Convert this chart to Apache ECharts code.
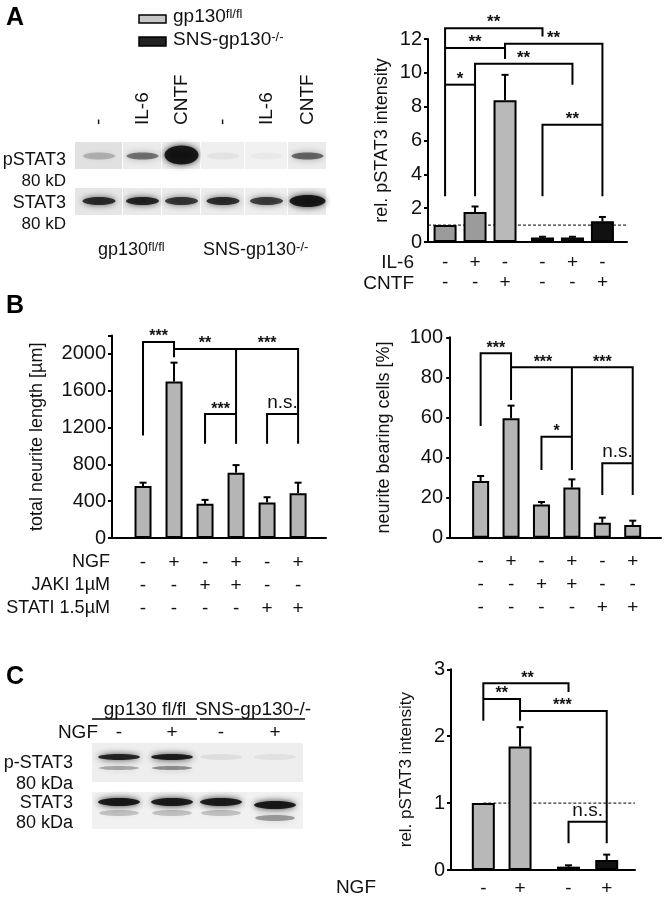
<!DOCTYPE html>
<html>
<head>
<meta charset="utf-8">
<script src="https://cdn.jsdelivr.net/npm/echarts@6/dist/echarts.min.js"></script>
<style>
  html, body { margin: 0; padding: 0; background: #fff; }
  #main { width: 665px; height: 900px; }
</style>
</head>
<body>
<div id="main"></div>
<script>
// ---- panel A: pSTAT3 quantification
const aX = [1, 2, 3, 4.25, 5.25, 6.25];
const aMeans = [1.0, 1.77, 8.38, 0.26, 0.26, 1.22];
const aErrs = [0, 0.33, 1.5, 0.05, 0.05, 0.26];
const aIL6 = ['-', '+', '-', '-', '+', '-'];
const aCNTF = ['-', '-', '+', '-', '-', '+'];
const aBrackets = [
  { pts: [[1, 2.7], [1, 12.64], [4.25, 12.64], [4.25, 12.15]], t: '**', lx: 2.62, ly: 12.64 },
  { pts: [[1, 11.47], [3, 11.47], [3, 10.82]], t: '**', lx: 2, ly: 11.47 },
  { pts: [[3, 10.82], [3, 11.72], [6.25, 11.72], [6.25, 2.7]], t: '**', lx: 4.62, ly: 11.72 },
  { pts: [[2, 2.7], [2, 10.54], [5.25, 10.54], [5.25, 9.3]], t: '**', lx: 3.62, ly: 10.54 },
  { pts: [[1, 9.3], [2, 9.3]], t: '*', lx: 1.5, ly: 9.3 },
  { pts: [[4.25, 2.7], [4.25, 6.93], [6.25, 6.93]], t: '**', lx: 5.25, ly: 6.93 }
];

// ---- panel B: neurite outgrowth
const bX = [1, 2, 3, 4, 5, 6];
const bLenMeans = [565, 1700, 371, 710, 386, 486];
const bLenErrs = [36, 205, 43, 82, 57, 115];
const bCellMeans = [28.3, 59.6, 16.6, 25.0, 7.5, 6.3];
const bCellErrs = [2.5, 6.3, 1.2, 4.1, 2.5, 2.2];
const bNGF = ['-', '+', '-', '+', '-', '+'];
const bJAKI = ['-', '-', '+', '+', '-', '-'];
const bSTATI = ['-', '-', '-', '-', '+', '+'];
const bLenBrackets = [
  { pts: [[1, 1113], [1, 2129], [2, 2129], [2, 1964]], t: '***', lx: 1.5, ly: 2129 },
  { pts: [[2, 2053], [6, 2053], [6, 1023]], t: '**', lx: 3, ly: 2053 },
  { pts: [[4, 2053], [4, 1023]], t: '***', lx: 5, ly: 2053 },
  { pts: [[3, 1023], [3, 1346], [4, 1346]], t: '***', lx: 3.5, ly: 1346 },
  { pts: [[5, 1023], [5, 1346], [6, 1346]], t: 'n.s.', lx: 5.5, ly: 1346 }
];
const bCellBrackets = [
  { pts: [[1, 55.7], [1, 92], [2, 92], [2, 68.7]], t: '***', lx: 1.5, ly: 92 },
  { pts: [[2, 85], [6, 85], [6, 21.3]], t: '***', lx: 3.05, ly: 85 },
  { pts: [[4, 85], [4, 33.8]], t: '***', lx: 5, ly: 85 },
  { pts: [[3, 33.8], [3, 50.4], [4, 50.4]], t: '*', lx: 3.5, ly: 50.4 },
  { pts: [[5, 21.3], [5, 37.1], [6, 37.1]], t: 'n.s.', lx: 5.5, ly: 37.1 }
];

// ---- panel C: NGF induced pSTAT3
const cX = [1, 2, 3.32, 4.36];
const cMeans = [1.0, 1.845, 0.05, 0.15];
const cErrs = [0, 0.29, 0.02, 0.08];
const cNGF = ['-', '+', '-', '+'];
const cBrackets = [
  { pts: [[1, 2.23], [1, 2.79], [3.32, 2.79], [3.32, 2.66]], t: '**', lx: 2.2, ly: 2.79 },
  { pts: [[1, 2.556], [2, 2.556], [2, 2.23]], t: '**', lx: 1.5, ly: 2.556 },
  { pts: [[2, 2.377], [4.36, 2.377], [4.36, 0.4]], t: '***', lx: 3.15, ly: 2.377 },
  { pts: [[3.32, 0.4], [3.32, 0.72], [4.36, 0.72]], t: 'n.s.', lx: 3.84, ly: 0.72 }
];

// blot band intensities (0..1)
const blotA_pstat = [0.22, 0.5, 0.95, 0.05, 0.03, 0.55];
const blotA_stat = [0.8, 0.85, 0.75, 0.8, 0.72, 0.95];
const blotC_pstatUp = [0.85, 0.9, 0.07, 0.06];
const blotC_pstatLow = [0.3, 0.4, 0, 0];
const blotC_statUp = [0.95, 0.9, 0.9, 0.95];
const blotC_statLow = [0.2, 0.2, 0.2, 0.35];

// styles
const F = '"Liberation Sans", Arial, Helvetica, sans-serif';
const aColors = ['#9b9b9b', '#9b9b9b', '#b9b9b9', '#111', '#111', '#111'];
const bColor = '#b5b5b5';
const cColors = ['#b8b8b8', '#b8b8b8', '#111', '#111'];

const chart = echarts.init(document.getElementById('main'));

function yAx(grid, max, interval, name, nameGap, nameSize, hideAbove) {
  return {
    type: 'value', gridIndex: grid, min: 0, max: max, interval: interval,
    name: name, nameLocation: 'middle', nameGap: nameGap,
    nameTextStyle: { fontSize: nameSize, color: '#111', fontFamily: F },
    axisLine: { show: true, lineStyle: { color: '#000', width: 2 } },
    axisTick: { show: true, inside: false, length: 4, lineStyle: { color: '#000', width: 2 } },
    axisLabel: {
      fontSize: 20, color: '#111', fontFamily: F, margin: 6,
      formatter: v => (hideAbove != null && v > hideAbove) ? '' : String(v)
    },
    splitLine: { show: false }
  };
}

function xAx(grid, min, max, xs, rows, margin, lineHeight) {
  return {
    type: 'value', gridIndex: grid, min: min, max: max,
    axisLine: { onZero: false, lineStyle: { color: '#000', width: 2 } },
    axisTick: { show: false },
    splitLine: { show: false },
    axisLabel: {
      customValues: xs,
      fontSize: 19, color: '#111', fontFamily: F, margin: margin, lineHeight: lineHeight,
      formatter: v => {
        const i = xs.findIndex(x => Math.abs(x - v) < 1e-6);
        return i < 0 ? '' : rows.map(r => r[i]).join('\n');
      }
    }
  };
}

function barSeries(grid, xs, means, colors, width) {
  return {
    type: 'bar', xAxisIndex: grid, yAxisIndex: grid, barWidth: width, z: 3,
    data: xs.map((x, i) => ({
      value: [x, means[i]],
      itemStyle: { color: Array.isArray(colors) ? colors[i] : colors, borderColor: '#000', borderWidth: 2 }
    })),
    silent: true
  };
}

function errSeries(grid, xs, means, errs) {
  return {
    type: 'custom', xAxisIndex: grid, yAxisIndex: grid, z: 4, silent: true,
    data: xs.map((x, i) => [x, means[i], errs[i]]),
    renderItem: (params, api) => {
      const x = api.value(0), m = api.value(1), e = api.value(2);
      if (!e) return { type: 'group', children: [] };
      const p0 = api.coord([x, m]);
      const p1 = api.coord([x, m + e]);
      return {
        type: 'group', children: [
          { type: 'line', shape: { x1: p0[0], y1: p0[1], x2: p1[0], y2: p1[1] }, style: { stroke: '#000', lineWidth: 2 } },
          { type: 'line', shape: { x1: p1[0] - 3.5, y1: p1[1], x2: p1[0] + 3.5, y2: p1[1] }, style: { stroke: '#000', lineWidth: 2 } }
        ]
      };
    }
  };
}

function bracketSeries(grid, brackets, starSize) {
  return {
    type: 'custom', xAxisIndex: grid, yAxisIndex: grid, z: 5, silent: true, clip: false,
    data: brackets.map(b => [b.lx, b.ly]),
    renderItem: (params, api) => {
      const b = brackets[params.dataIndex];
      const pts = b.pts.map(p => api.coord(p));
      const lp = api.coord([b.lx, b.ly]);
      const ns = b.t === 'n.s.';
      return {
        type: 'group', children: [
          { type: 'polyline', shape: { points: pts }, style: { stroke: '#000', lineWidth: 2, fill: null } },
          {
            type: 'text', x: lp[0], y: lp[1] - (ns ? 2 : -3),
            style: {
              text: b.t, align: 'center', verticalAlign: 'bottom', fill: '#111',
              font: (ns ? '19px ' : 'bold ' + starSize + 'px ') + F
            }
          }
        ]
      };
    }
  };
}

function refLine(grid, x0, x1) {
  return {
    type: 'line', xAxisIndex: grid, yAxisIndex: grid, z: 1, silent: true, symbol: 'none',
    data: [[x0, 1], [x1, 1]],
    lineStyle: { color: '#000', width: 1, type: [3, 2] }
  };
}

// ---- graphic helpers (blots and free text)
function txt(x, y, text, size, align, extra) {
  return Object.assign({
    type: 'text', x: x, y: y, silent: true,
    style: { text: text, font: size + 'px ' + F, fill: '#111', align: align || 'left', verticalAlign: 'middle' }
  }, extra || {});
}
function richTxt(x, y, base, sup, size) {
  return {
    type: 'text', x: x, y: y, silent: true,
    style: {
      text: '{b|' + base + '}{s|' + sup + '}', align: 'left', verticalAlign: 'middle',
      rich: {
        b: { font: size + 'px ' + F, fill: '#111', verticalAlign: 'bottom' },
        s: { font: Math.round(size * 0.7) + 'px ' + F, fill: '#111', verticalAlign: 'top' }
      }
    }
  };
}
function band(cx, cy, w, h, k) {
  if (k <= 0) return null;
  const a = Math.min(0.92, k);
  return {
    type: 'ellipse', silent: true,
    shape: { cx: cx, cy: cy, rx: w / 2, ry: h / 2 },
    style: { fill: 'rgba(15,15,15,' + a + ')', shadowBlur: 6, shadowColor: 'rgba(15,15,15,' + a + ')' }
  };
}

const g = [];
// panel letters
['A', 'B', 'C'].forEach((L, i) => g.push({
  type: 'text', x: 6, y: [18, 306, 677][i], silent: true,
  style: { text: L, font: 'bold 25px ' + F, fill: '#000', verticalAlign: 'middle' }
}));

// legend A
g.push({ type: 'rect', silent: true, shape: { x: 139, y: 15, width: 27, height: 8 }, style: { fill: '#c8c8c8', stroke: '#000', lineWidth: 1.5 } });
g.push({ type: 'rect', silent: true, shape: { x: 139, y: 37, width: 27, height: 9 }, style: { fill: '#222', stroke: '#000', lineWidth: 1.5 } });
g.push(richTxt(173, 17, 'gp130', 'fl/fl', 19));
g.push(richTxt(173, 40, 'SNS-gp130', '-/-', 19));

// blot A
const laneEdgesA = [75, 123, 162, 201, 245, 288, 327];
const bgP = ['#e1e1e1', '#ebebeb', '#ececec', '#efefef', '#f1f1f1', '#ebebeb'];
const bgS = ['#e6e6e6', '#eaeaea', '#ebebeb', '#ececec', '#eeeeee', '#eaeaea'];
const laneLblA = ['-', 'IL-6', 'CNTF', '-', 'IL-6', 'CNTF'];
for (let i = 0; i < 6; i++) {
  const x0 = laneEdgesA[i], x1 = laneEdgesA[i + 1], cx = (x0 + x1) / 2;
  g.push({ type: 'rect', silent: true, shape: { x: x0, y: 142, width: x1 - x0 - 1, height: 27 }, style: { fill: bgP[i] } });
  g.push({ type: 'rect', silent: true, shape: { x: x0, y: 188, width: x1 - x0 - 1, height: 27 }, style: { fill: bgS[i] } });
  const bp = band(cx, i === 2 ? 155 : 156, i === 2 ? 34 : 32, i === 2 ? 19 : 7, blotA_pstat[i]);
  if (bp) g.push(bp);
  const bs = band(cx, 201, i === 5 ? 36 : 33, i === 5 ? 12 : 8, blotA_stat[i]);
  if (bs) g.push(bs);
  g.push({
    type: 'text', x: cx, y: 125, rotation: Math.PI / 2, silent: true,
    style: { text: laneLblA[i], font: '19px ' + F, fill: '#111', align: 'left', verticalAlign: 'middle' }
  });
}
g.push(txt(66, 160, 'pSTAT3', 18, 'right'));
g.push(txt(66, 181, '80 kD', 17, 'right'));
g.push(txt(66, 203, 'STAT3', 18, 'right'));
g.push(txt(66, 224, '80 kD', 17, 'right'));
g.push(richTxt(98, 250, 'gp130', 'fl/fl', 18));
g.push(richTxt(203, 250, 'SNS-gp130', '-/-', 18));

// row labels for sign tables
g.push(txt(414, 263, 'IL-6', 19, 'right'));
g.push(txt(414, 284, 'CNTF', 19, 'right'));
g.push(txt(110, 562, 'NGF', 18, 'right'));
g.push(txt(110, 585, 'JAKI 1µM', 18, 'right'));
g.push(txt(110, 608, 'STATI 1.5µM', 18, 'right'));
g.push(txt(376, 888, 'NGF', 19, 'right'));

// blot C
g.push(txt(145, 710, 'gp130 fl/fl', 19, 'center'));
g.push(txt(253, 710, 'SNS-gp130-/-', 19, 'center'));
g.push({ type: 'line', silent: true, shape: { x1: 92, y1: 719, x2: 197, y2: 719 }, style: { stroke: '#000', lineWidth: 1.5 } });
g.push({ type: 'line', silent: true, shape: { x1: 200, y1: 719, x2: 305, y2: 719 }, style: { stroke: '#000', lineWidth: 1.5 } });
g.push(txt(98, 733, 'NGF', 19, 'right'));
const laneCx = [119, 172, 221, 275];
['-', '+', '-', '+'].forEach((s, i) => g.push(txt(laneCx[i], 733, s, 19, 'center')));
g.push({ type: 'rect', silent: true, shape: { x: 92, y: 743, width: 211, height: 39 }, style: { fill: '#eeeeee' } });
g.push({ type: 'rect', silent: true, shape: { x: 92, y: 792, width: 211, height: 37 }, style: { fill: '#f1f1f1' } });
for (let i = 0; i < 4; i++) {
  const cx = laneCx[i];
  [band(cx, 757, 42, 6, blotC_pstatUp[i]), band(cx, 768, 40, 4, blotC_pstatLow[i]),
   band(cx, i === 3 ? 805 : 802, 42, 8, blotC_statUp[i]), band(cx, i === 3 ? 818 : 813, 40, 6, blotC_statLow[i])]
    .forEach(b => { if (b) g.push(b); });
}
g.push(txt(73, 763, 'p-STAT3', 18, 'right'));
g.push(txt(73, 784, '80 kDa', 18, 'right'));
g.push(txt(73, 803, 'STAT3', 18, 'right'));
g.push(txt(73, 823, '80 kDa', 18, 'right'));

chart.setOption({
  animation: false,
  backgroundColor: '#fff',
  textStyle: { fontFamily: F },
  grid: [
    { left: 428, top: 39, width: 199, height: 203, outerBoundsMode: 'none' },
    { left: 112, top: 335.5, width: 214, height: 202.5, outerBoundsMode: 'none' },
    { left: 449, top: 337.3, width: 212, height: 200.4, outerBoundsMode: 'none' },
    { left: 451, top: 669.3, width: 184, height: 200.7, outerBoundsMode: 'none' }
  ],
  xAxis: [
    xAx(0, 0.43, 7.07, aX, [aIL6, aCNTF], 11, 20),
    xAx(1, 0, 6.9, bX, [bNGF, bJAKI, bSTATI], 13, 23),
    xAx(2, -0.04, 6.93, bX, [bNGF, bJAKI, bSTATI], 13, 23),
    xAx(3, 0.12, 5.13, cX, [cNGF], 9, 20)
  ],
  yAxis: [
    yAx(0, 12, 2, 'rel. pSTAT3 intensity', 37, 18),
    yAx(1, 2200, 400, 'total neurite length [µm]', 66, 18, 2000),
    yAx(2, 100, 20, 'neurite bearing cells [%]', 56, 18),
    yAx(3, 3, 1, 'rel. pSTAT3 intensity', 36, 17)
  ],
  series: [
    refLine(0, 0.43, 7.07),
    barSeries(0, aX, aMeans, aColors, 23),
    errSeries(0, aX, aMeans, aErrs),
    bracketSeries(0, aBrackets, 17),

    barSeries(1, bX, bLenMeans, bColor, 17),
    errSeries(1, bX, bLenMeans, bLenErrs),
    bracketSeries(1, bLenBrackets, 16),

    barSeries(2, bX, bCellMeans, bColor, 17),
    errSeries(2, bX, bCellMeans, bCellErrs),
    bracketSeries(2, bCellBrackets, 16),

    refLine(3, 1, 5.13),
    barSeries(3, cX, cMeans, cColors, 23),
    errSeries(3, cX, cMeans, cErrs),
    bracketSeries(3, cBrackets, 16)
  ],
  graphic: g
});
</script>
</body>
</html>
